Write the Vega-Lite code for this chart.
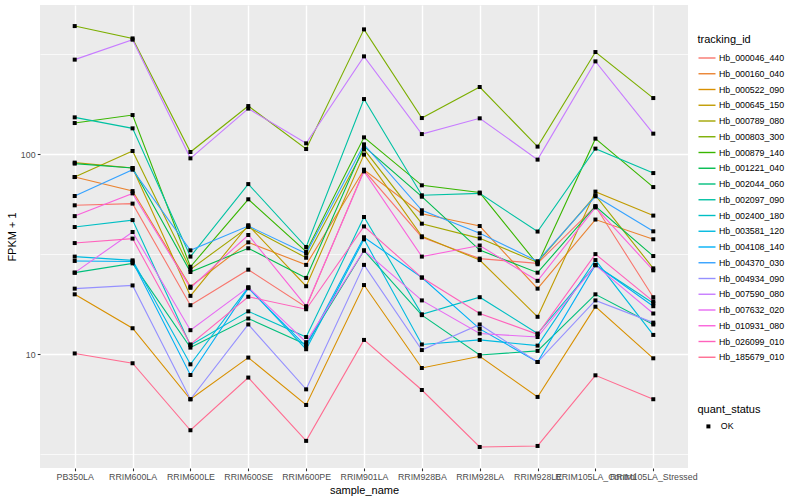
{
  "$schema": "https://vega.github.io/schema/vega-lite/v6.json",
  "width": 648,
  "height": 463,
  "autosize": {"type": "none"},
  "padding": {"left": 40, "top": 5, "right": 112, "bottom": 32},
  "background": "white",
  "config": {
    "font": "Liberation Sans",
    "view": {"fill": "#EBEBEB", "stroke": null},
    "axis": {
      "domain": false,
      "tickColor": "#333333",
      "tickWidth": 1.07,
      "tickSize": 2.75,
      "labelColor": "#4D4D4D",
      "labelFontSize": 8.8,
      "labelPadding": 2.2,
      "titleFontSize": 11,
      "titleFontWeight": "normal",
      "titleColor": "black",
      "gridColor": "white",
      "gridWidth": 1.42
    }
  },
  "data": {
    "values": [
      {"tracking_id": "Hb_000046_440", "quant_status": "OK", "PB350LA": 55.6, "RRIM600LA": 56.7, "RRIM600LE": 17.6, "RRIM600SE": 26.5, "RRIM600PE": 17.2, "RRIM901LA": 83.2, "RRIM928BA": 38.5, "RRIM928LA": 30.1, "RRIM928LE": 28.5, "RRIM105LA_Control": 55.0, "RRIM105LA_Stressed": 19.3},
      {"tracking_id": "Hb_000160_040", "quant_status": "OK", "PB350LA": 77.0, "RRIM600LA": 65.5, "RRIM600LE": 21.8, "RRIM600SE": 36.3, "RRIM600PE": 28.0, "RRIM901LA": 83.8, "RRIM928BA": 50.5, "RRIM928LA": 43.8, "RRIM928LE": 21.3, "RRIM105LA_Control": 47.2, "RRIM105LA_Stressed": 37.6},
      {"tracking_id": "Hb_000522_090", "quant_status": "OK", "PB350LA": 19.95, "RRIM600LA": 13.5, "RRIM600LE": 5.96, "RRIM600SE": 9.63, "RRIM600PE": 5.58, "RRIM901LA": 22.2, "RRIM928BA": 8.54, "RRIM928LA": 9.77, "RRIM928LE": 6.12, "RRIM105LA_Control": 17.3, "RRIM105LA_Stressed": 9.55},
      {"tracking_id": "Hb_000645_150", "quant_status": "OK", "PB350LA": 90.9, "RRIM600LA": 85.4, "RRIM600LE": 19.6, "RRIM600SE": 44.2, "RRIM600PE": 21.9, "RRIM901LA": 99.7, "RRIM928BA": 38.9, "RRIM928LA": 29.6, "RRIM928LE": 15.4, "RRIM105LA_Control": 65.1, "RRIM105LA_Stressed": 49.4},
      {"tracking_id": "Hb_000789_080", "quant_status": "OK", "PB350LA": 77.0, "RRIM600LA": 103.9, "RRIM600LE": 26.6, "RRIM600SE": 43.3, "RRIM600PE": 30.4, "RRIM901LA": 105.9, "RRIM928BA": 45.0, "RRIM928LA": 38.0, "RRIM928LE": 28.8, "RRIM105LA_Control": 62.4, "RRIM105LA_Stressed": 26.9},
      {"tracking_id": "Hb_000803_300", "quant_status": "OK", "PB350LA": 438, "RRIM600LA": 380, "RRIM600LE": 102.7, "RRIM600SE": 174.4, "RRIM600PE": 106.3, "RRIM901LA": 421.7, "RRIM928BA": 151.9, "RRIM928LA": 217.1, "RRIM928LE": 109.3, "RRIM105LA_Control": 324.8, "RRIM105LA_Stressed": 191.2},
      {"tracking_id": "Hb_000879_140", "quant_status": "OK", "PB350LA": 143.4, "RRIM600LA": 157.2, "RRIM600LE": 27.4, "RRIM600SE": 59.6, "RRIM600PE": 32.6, "RRIM901LA": 121.6, "RRIM928BA": 70.0, "RRIM928LA": 64.4, "RRIM928LE": 28.2, "RRIM105LA_Control": 119.8, "RRIM105LA_Stressed": 68.6},
      {"tracking_id": "Hb_001221_040", "quant_status": "OK", "PB350LA": 89.9, "RRIM600LA": 85.4, "RRIM600LE": 25.8, "RRIM600SE": 33.9, "RRIM600PE": 24.1, "RRIM901LA": 109.6, "RRIM928BA": 61.4, "RRIM928LA": 33.2, "RRIM928LE": 25.6, "RRIM105LA_Control": 55.0, "RRIM105LA_Stressed": 31.0},
      {"tracking_id": "Hb_002044_060", "quant_status": "OK", "PB350LA": 25.6, "RRIM600LA": 28.5, "RRIM600LE": 10.8, "RRIM600SE": 15.1, "RRIM600PE": 11.2, "RRIM901LA": 33.0, "RRIM928BA": 15.7, "RRIM928LA": 9.92, "RRIM928LE": 10.4, "RRIM105LA_Control": 19.95, "RRIM105LA_Stressed": 14.1},
      {"tracking_id": "Hb_002097_090", "quant_status": "OK", "PB350LA": 153.1, "RRIM600LA": 134.9, "RRIM600LE": 30.8, "RRIM600SE": 71.0, "RRIM600PE": 34.4, "RRIM901LA": 189.0, "RRIM928BA": 62.4, "RRIM928LA": 63.8, "RRIM928LE": 41.1, "RRIM105LA_Control": 106.8, "RRIM105LA_Stressed": 80.6},
      {"tracking_id": "Hb_002400_180", "quant_status": "OK", "PB350LA": 43.3, "RRIM600LA": 46.9, "RRIM600LE": 11.1, "RRIM600SE": 16.4, "RRIM600PE": 12.2, "RRIM901LA": 48.6, "RRIM928BA": 15.85, "RRIM928LA": 19.3, "RRIM928LE": 12.7, "RRIM105LA_Control": 27.9, "RRIM105LA_Stressed": 18.0},
      {"tracking_id": "Hb_003581_120", "quant_status": "OK", "PB350LA": 30.8, "RRIM600LA": 29.5, "RRIM600LE": 8.91, "RRIM600SE": 21.6, "RRIM600PE": 10.6, "RRIM901LA": 37.6, "RRIM928BA": 11.2, "RRIM928LA": 11.8, "RRIM928LE": 11.05, "RRIM105LA_Control": 29.6, "RRIM105LA_Stressed": 12.5},
      {"tracking_id": "Hb_004108_140", "quant_status": "OK", "PB350LA": 29.3, "RRIM600LA": 29.1, "RRIM600LE": 7.88, "RRIM600SE": 21.4, "RRIM600PE": 10.96, "RRIM901LA": 38.5, "RRIM928BA": 24.2, "RRIM928LA": 13.4, "RRIM928LE": 9.15, "RRIM105LA_Control": 28.0, "RRIM105LA_Stressed": 17.4},
      {"tracking_id": "Hb_004370_030", "quant_status": "OK", "PB350LA": 61.9, "RRIM600LA": 83.8, "RRIM600LE": 33.1, "RRIM600SE": 43.8, "RRIM600PE": 31.9, "RRIM901LA": 112.2, "RRIM928BA": 52.5, "RRIM928LA": 40.3, "RRIM928LE": 29.2, "RRIM105LA_Control": 61.7, "RRIM105LA_Stressed": 41.2},
      {"tracking_id": "Hb_004934_090", "quant_status": "OK", "PB350LA": 21.3, "RRIM600LA": 22.1, "RRIM600LE": 5.96, "RRIM600SE": 14.1, "RRIM600PE": 6.68, "RRIM901LA": 28.0, "RRIM928BA": 10.5, "RRIM928LA": 14.1, "RRIM928LE": 9.15, "RRIM105LA_Control": 18.6, "RRIM105LA_Stressed": 14.4},
      {"tracking_id": "Hb_007590_080", "quant_status": "OK", "PB350LA": 297.6, "RRIM600LA": 374.5, "RRIM600LE": 95.5, "RRIM600SE": 169.3, "RRIM600PE": 113.5, "RRIM901LA": 309, "RRIM928BA": 126.3, "RRIM928LA": 151.4, "RRIM928LE": 94.1, "RRIM105LA_Control": 291.7, "RRIM105LA_Stressed": 126.9},
      {"tracking_id": "Hb_007632_020", "quant_status": "OK", "PB350LA": 25.6, "RRIM600LA": 40.9, "RRIM600LE": 13.2, "RRIM600SE": 21.6, "RRIM600PE": 11.5, "RRIM901LA": 33.1, "RRIM928BA": 18.6, "RRIM928LA": 12.7, "RRIM928LE": 12.2, "RRIM105LA_Control": 27.9, "RRIM105LA_Stressed": 16.0},
      {"tracking_id": "Hb_010931_080", "quant_status": "OK", "PB350LA": 49.1, "RRIM600LA": 63.8, "RRIM600LE": 21.5, "RRIM600SE": 39.5, "RRIM600PE": 17.4, "RRIM901LA": 82.2, "RRIM928BA": 30.8, "RRIM928LA": 35.0, "RRIM928LE": 23.3, "RRIM105LA_Control": 54.3, "RRIM105LA_Stressed": 26.3},
      {"tracking_id": "Hb_026099_010", "quant_status": "OK", "PB350LA": 36.0, "RRIM600LA": 37.9, "RRIM600LE": 11.2, "RRIM600SE": 19.4, "RRIM600PE": 16.8, "RRIM901LA": 43.6, "RRIM928BA": 24.2, "RRIM928LA": 16.0, "RRIM928LE": 12.6, "RRIM105LA_Control": 31.7, "RRIM105LA_Stressed": 18.4},
      {"tracking_id": "Hb_185679_010", "quant_status": "OK", "PB350LA": 10.1, "RRIM600LA": 9.02, "RRIM600LE": 4.17, "RRIM600SE": 7.65, "RRIM600PE": 3.69, "RRIM901LA": 11.8, "RRIM928BA": 6.63, "RRIM928LA": 3.44, "RRIM928LE": 3.48, "RRIM105LA_Control": 7.85, "RRIM105LA_Stressed": 5.96}
    ]
  },
  "transform": [
    {"fold": ["PB350LA", "RRIM600LA", "RRIM600LE", "RRIM600SE", "RRIM600PE", "RRIM901LA", "RRIM928BA", "RRIM928LA", "RRIM928LE", "RRIM105LA_Control", "RRIM105LA_Stressed"], "as": ["sample_name", "FPKM_plus_1"]}
  ],
  "encoding": {
    "x": {
      "field": "sample_name",
      "type": "nominal",
      "sort": ["PB350LA", "RRIM600LA", "RRIM600LE", "RRIM600SE", "RRIM600PE", "RRIM901LA", "RRIM928BA", "RRIM928LA", "RRIM928LE", "RRIM105LA_Control", "RRIM105LA_Stressed"],
      "scale": {"type": "point", "padding": 0.6},
      "axis": {"labelAngle": 0, "labelOverlap": false, "labelLimit": 0, "titlePadding": 3, "grid": true},
      "title": "sample_name"
    },
    "y": {
      "field": "FPKM_plus_1",
      "type": "quantitative",
      "scale": {"type": "log", "domain": [2.7, 558.3], "nice": false, "zero": false},
      "axis": {
        "values": [3.16227766, 10, 31.6227766, 100, 316.227766],
        "labelExpr": "(datum.value == 10 || datum.value == 100) ? format(datum.value, 'd') : ''",
        "gridWidth": {"condition": {"test": "datum.value == 10 || datum.value == 100", "value": 1.42}, "value": 0.71},
        "tickOpacity": {"condition": {"test": "datum.value == 10 || datum.value == 100", "value": 1}, "value": 0},
        "titlePadding": 2.5
      },
      "title": "FPKM + 1"
    }
  },
  "layer": [
    {
      "mark": {"type": "line", "strokeWidth": 1.1},
      "encoding": {
        "order": {"value": null},
        "color": {
          "field": "tracking_id",
          "type": "nominal",
          "scale": {
            "domain": ["Hb_000046_440", "Hb_000160_040", "Hb_000522_090", "Hb_000645_150", "Hb_000789_080", "Hb_000803_300", "Hb_000879_140", "Hb_001221_040", "Hb_002044_060", "Hb_002097_090", "Hb_002400_180", "Hb_003581_120", "Hb_004108_140", "Hb_004370_030", "Hb_004934_090", "Hb_007590_080", "Hb_007632_020", "Hb_010931_080", "Hb_026099_010", "Hb_185679_010"],
            "range": ["#F8766D", "#EA8331", "#D89000", "#C09B00", "#A3A500", "#7CAE00", "#39B600", "#00BB4E", "#00BF7D", "#00C1A3", "#00BFC4", "#00BAE0", "#00B0F6", "#35A2FF", "#9590FF", "#C77CFF", "#E76BF3", "#FA62DB", "#FF62BC", "#FF6C91"]
          },
          "legend": {
            "orient": "none",
            "legendX": 657.5,
            "legendY": 29,
            "title": "tracking_id",
            "symbolType": "stroke",
            "symbolSize": 289,
            "symbolStrokeWidth": 1.4,
            "rowPadding": 0.75,
            "titlePadding": 3.5,
            "labelOffset": 2.5,
            "labelFontSize": 8.8,
            "labelColor": "black",
            "titleFontSize": 11,
            "titleFontWeight": "normal",
            "titleColor": "black",
            "padding": 0
          }
        }
      }
    },
    {
      "mark": {"type": "point", "filled": true, "color": "black", "size": 16, "opacity": 1},
      "encoding": {
        "shape": {
          "field": "quant_status",
          "type": "nominal",
          "scale": {"range": ["square"]},
          "legend": {
            "orient": "none",
            "legendX": 657.5,
            "legendY": 399,
            "title": "quant_status",
            "symbolSize": 16,
            "symbolFillColor": "black",
            "symbolStrokeColor": "black",
            "symbolOffset": 6.5,
            "labelOffset": 8,
            "titlePadding": 7,
            "labelFontSize": 8.8,
            "labelColor": "black",
            "titleFontSize": 11,
            "titleFontWeight": "normal",
            "titleColor": "black",
            "padding": 0
          }
        }
      }
    }
  ]
}
